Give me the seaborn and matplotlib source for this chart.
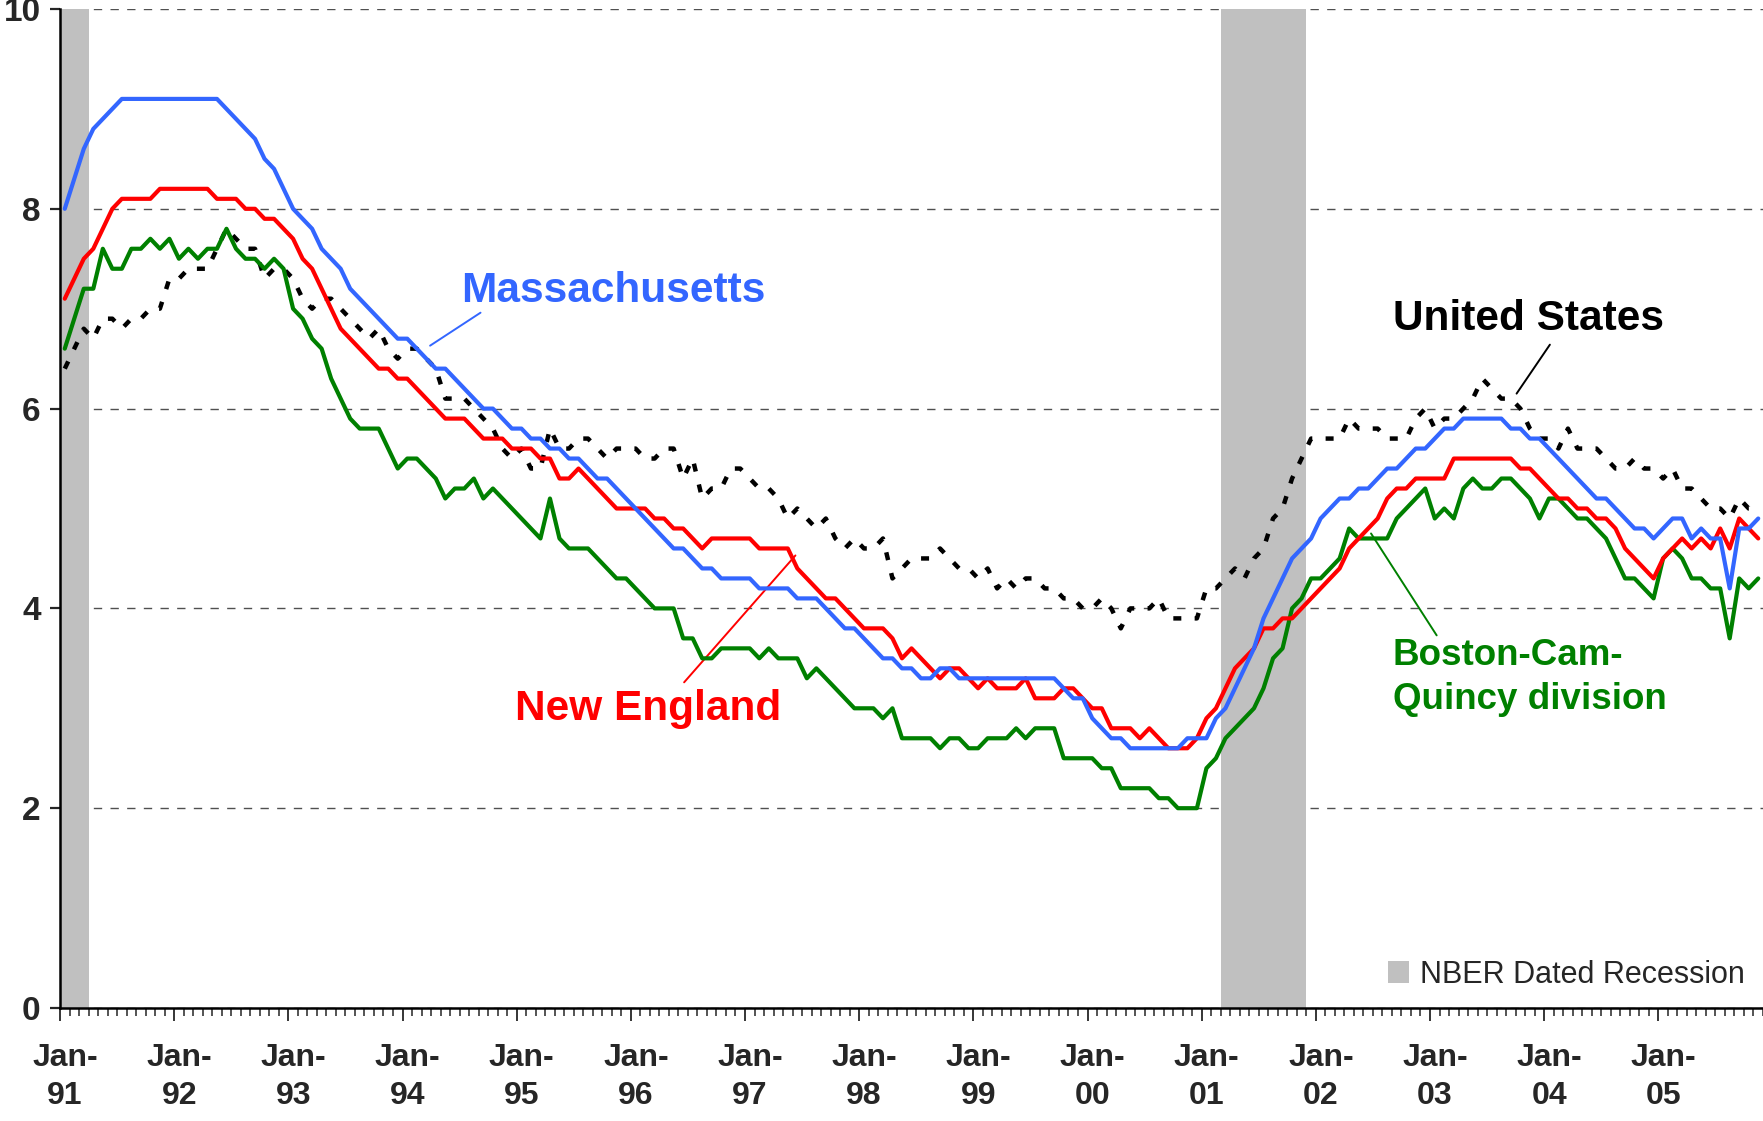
import numpy as np
import pandas as pd
import matplotlib
matplotlib.use("Agg")
import matplotlib.pyplot as plt
import matplotlib.transforms as mtransforms
from matplotlib.patches import Patch
import seaborn as sns

# Monthly unemployment rates, Jan-1991 .. Nov-2005 (percent)
massachusetts = [
    8.0, 8.3, 8.6, 8.8, 8.9, 9.0, 9.1, 9.1, 9.1, 9.1, 9.1, 9.1,   # 1991
    9.1, 9.1, 9.1, 9.1, 9.1, 9.0, 8.9, 8.8, 8.7, 8.5, 8.4, 8.2,   # 1992
    8.0, 7.9, 7.8, 7.6, 7.5, 7.4, 7.2, 7.1, 7.0, 6.9, 6.8, 6.7,   # 1993
    6.7, 6.6, 6.5, 6.4, 6.4, 6.3, 6.2, 6.1, 6.0, 6.0, 5.9, 5.8,   # 1994
    5.8, 5.7, 5.7, 5.6, 5.6, 5.5, 5.5, 5.4, 5.3, 5.3, 5.2, 5.1,   # 1995
    5.0, 4.9, 4.8, 4.7, 4.6, 4.6, 4.5, 4.4, 4.4, 4.3, 4.3, 4.3,   # 1996
    4.3, 4.2, 4.2, 4.2, 4.2, 4.1, 4.1, 4.1, 4.0, 3.9, 3.8, 3.8,   # 1997
    3.7, 3.6, 3.5, 3.5, 3.4, 3.4, 3.3, 3.3, 3.4, 3.4, 3.3, 3.3,   # 1998
    3.3, 3.3, 3.3, 3.3, 3.3, 3.3, 3.3, 3.3, 3.3, 3.2, 3.1, 3.1,   # 1999
    2.9, 2.8, 2.7, 2.7, 2.6, 2.6, 2.6, 2.6, 2.6, 2.6, 2.7, 2.7,   # 2000
    2.7, 2.9, 3.0, 3.2, 3.4, 3.6, 3.9, 4.1, 4.3, 4.5, 4.6, 4.7,   # 2001
    4.9, 5.0, 5.1, 5.1, 5.2, 5.2, 5.3, 5.4, 5.4, 5.5, 5.6, 5.6,   # 2002
    5.7, 5.8, 5.8, 5.9, 5.9, 5.9, 5.9, 5.9, 5.8, 5.8, 5.7, 5.7,   # 2003
    5.6, 5.5, 5.4, 5.3, 5.2, 5.1, 5.1, 5.0, 4.9, 4.8, 4.8, 4.7,   # 2004
    4.8, 4.9, 4.9, 4.7, 4.8, 4.7, 4.7, 4.2, 4.8, 4.8, 4.9,        # 2005
]
new_england = [
    7.1, 7.3, 7.5, 7.6, 7.8, 8.0, 8.1, 8.1, 8.1, 8.1, 8.2, 8.2,
    8.2, 8.2, 8.2, 8.2, 8.1, 8.1, 8.1, 8.0, 8.0, 7.9, 7.9, 7.8,
    7.7, 7.5, 7.4, 7.2, 7.0, 6.8, 6.7, 6.6, 6.5, 6.4, 6.4, 6.3,
    6.3, 6.2, 6.1, 6.0, 5.9, 5.9, 5.9, 5.8, 5.7, 5.7, 5.7, 5.6,
    5.6, 5.6, 5.5, 5.5, 5.3, 5.3, 5.4, 5.3, 5.2, 5.1, 5.0, 5.0,
    5.0, 5.0, 4.9, 4.9, 4.8, 4.8, 4.7, 4.6, 4.7, 4.7, 4.7, 4.7,
    4.7, 4.6, 4.6, 4.6, 4.6, 4.4, 4.3, 4.2, 4.1, 4.1, 4.0, 3.9,
    3.8, 3.8, 3.8, 3.7, 3.5, 3.6, 3.5, 3.4, 3.3, 3.4, 3.4, 3.3,
    3.2, 3.3, 3.2, 3.2, 3.2, 3.3, 3.1, 3.1, 3.1, 3.2, 3.2, 3.1,
    3.0, 3.0, 2.8, 2.8, 2.8, 2.7, 2.8, 2.7, 2.6, 2.6, 2.6, 2.7,
    2.9, 3.0, 3.2, 3.4, 3.5, 3.6, 3.8, 3.8, 3.9, 3.9, 4.0, 4.1,
    4.2, 4.3, 4.4, 4.6, 4.7, 4.8, 4.9, 5.1, 5.2, 5.2, 5.3, 5.3,
    5.3, 5.3, 5.5, 5.5, 5.5, 5.5, 5.5, 5.5, 5.5, 5.4, 5.4, 5.3,
    5.2, 5.1, 5.1, 5.0, 5.0, 4.9, 4.9, 4.8, 4.6, 4.5, 4.4, 4.3,
    4.5, 4.6, 4.7, 4.6, 4.7, 4.6, 4.8, 4.6, 4.9, 4.8, 4.7,
]
boston = [
    6.6, 6.9, 7.2, 7.2, 7.6, 7.4, 7.4, 7.6, 7.6, 7.7, 7.6, 7.7,
    7.5, 7.6, 7.5, 7.6, 7.6, 7.8, 7.6, 7.5, 7.5, 7.4, 7.5, 7.4,
    7.0, 6.9, 6.7, 6.6, 6.3, 6.1, 5.9, 5.8, 5.8, 5.8, 5.6, 5.4,
    5.5, 5.5, 5.4, 5.3, 5.1, 5.2, 5.2, 5.3, 5.1, 5.2, 5.1, 5.0,
    4.9, 4.8, 4.7, 5.1, 4.7, 4.6, 4.6, 4.6, 4.5, 4.4, 4.3, 4.3,
    4.2, 4.1, 4.0, 4.0, 4.0, 3.7, 3.7, 3.5, 3.5, 3.6, 3.6, 3.6,
    3.6, 3.5, 3.6, 3.5, 3.5, 3.5, 3.3, 3.4, 3.3, 3.2, 3.1, 3.0,
    3.0, 3.0, 2.9, 3.0, 2.7, 2.7, 2.7, 2.7, 2.6, 2.7, 2.7, 2.6,
    2.6, 2.7, 2.7, 2.7, 2.8, 2.7, 2.8, 2.8, 2.8, 2.5, 2.5, 2.5,
    2.5, 2.4, 2.4, 2.2, 2.2, 2.2, 2.2, 2.1, 2.1, 2.0, 2.0, 2.0,
    2.4, 2.5, 2.7, 2.8, 2.9, 3.0, 3.2, 3.5, 3.6, 4.0, 4.1, 4.3,
    4.3, 4.4, 4.5, 4.8, 4.7, 4.7, 4.7, 4.7, 4.9, 5.0, 5.1, 5.2,
    4.9, 5.0, 4.9, 5.2, 5.3, 5.2, 5.2, 5.3, 5.3, 5.2, 5.1, 4.9,
    5.1, 5.1, 5.0, 4.9, 4.9, 4.8, 4.7, 4.5, 4.3, 4.3, 4.2, 4.1,
    4.5, 4.6, 4.5, 4.3, 4.3, 4.2, 4.2, 3.7, 4.3, 4.2, 4.3,
]
united_states = [
    6.4, 6.6, 6.8, 6.7, 6.9, 6.9, 6.8, 6.9, 6.9, 7.0, 7.0, 7.3,
    7.3, 7.4, 7.4, 7.4, 7.6, 7.8, 7.7, 7.6, 7.6, 7.3, 7.4, 7.4,
    7.3, 7.1, 7.0, 7.1, 7.1, 7.0, 6.9, 6.8, 6.7, 6.8, 6.6, 6.5,
    6.6, 6.6, 6.5, 6.4, 6.1, 6.1, 6.1, 6.0, 5.9, 5.8, 5.6, 5.5,
    5.6, 5.4, 5.4, 5.8, 5.6, 5.6, 5.7, 5.7, 5.6, 5.5, 5.6, 5.6,
    5.6, 5.5, 5.5, 5.6, 5.6, 5.3, 5.5, 5.1, 5.2, 5.2, 5.4, 5.4,
    5.3, 5.2, 5.2, 5.1, 4.9, 5.0, 4.9, 4.8, 4.9, 4.7, 4.6, 4.7,
    4.6, 4.6, 4.7, 4.3, 4.4, 4.5, 4.5, 4.5, 4.6, 4.5, 4.4, 4.4,
    4.3, 4.4, 4.2, 4.3, 4.2, 4.3, 4.3, 4.2, 4.2, 4.1, 4.1, 4.0,
    4.0, 4.1, 4.0, 3.8, 4.0, 4.0, 4.0, 4.1, 3.9, 3.9, 3.9, 3.9,
    4.2, 4.2, 4.3, 4.4, 4.3, 4.5, 4.6, 4.9, 5.0, 5.3, 5.5, 5.7,
    5.7, 5.7, 5.7, 5.9, 5.8, 5.8, 5.8, 5.7, 5.7, 5.7, 5.9, 6.0,
    5.8, 5.9, 5.9, 6.0, 6.1, 6.3, 6.2, 6.1, 6.1, 6.0, 5.8, 5.7,
    5.7, 5.6, 5.8, 5.6, 5.6, 5.6, 5.5, 5.4, 5.4, 5.5, 5.4, 5.4,
    5.3, 5.4, 5.2, 5.2, 5.1, 5.0, 5.0, 4.9, 5.1, 5.0, 5.0,
]
year_labels = ['91', '92', '93', '94', '95', '96', '97', '98',
               '99', '00', '01', '02', '03', '04', '05']
# NBER recessions as (first month, last month) indices from Jan-91
recessions = [(0, 2), (122, 130)]

df = pd.DataFrame({
    'month': np.arange(len(massachusetts)),
    'Massachusetts': massachusetts,
    'New England': new_england,
    'Boston': boston,
    'United States': united_states,
})

BLUE = '#3366FF'
RED = '#FF0000'
GREEN = '#008000'
GRAY = '#C0C0C0'

sns.set_style('white')
plt.rcParams['font.family'] = ['Liberation Sans', 'DejaVu Sans']

fig = plt.figure(figsize=(17.63, 11.21), dpi=100)
ax = fig.add_axes([60 / 1763, 113 / 1121, 1 - 60 / 1763, 999 / 1121])

# recession shading
for start, end in recessions:
    ax.axvspan(start - 0.5, end + 0.5, color=GRAY, lw=0, zorder=1)

sns.lineplot(data=df, x='month', y='United States', ax=ax, color='black',
             lw=3.2, linestyle=(0, (1.8, 3.0)), zorder=3)
sns.lineplot(data=df, x='month', y='Boston', ax=ax, color=GREEN, lw=3.0, zorder=4)
sns.lineplot(data=df, x='month', y='New England', ax=ax, color=RED, lw=3.0, zorder=5)
sns.lineplot(data=df, x='month', y='Massachusetts', ax=ax, color=BLUE, lw=3.0, zorder=6)

ax.set_xlim(-0.5, 178.3)
ax.set_ylim(0, 10)
ax.set_xlabel('')
ax.set_ylabel('')

# grid
ax.set_axisbelow(True)
ax.yaxis.grid(True, color='#505050', linestyle=(0, (6, 6)), lw=1.0)
ax.xaxis.grid(False)

for side in ['top', 'right']:
    ax.spines[side].set_visible(False)
for side in ['left', 'bottom']:
    ax.spines[side].set_color('black')
    ax.spines[side].set_linewidth(1.8)

# ticks
ax.set_yticks(np.arange(0, 11, 2))
ax.set_yticklabels([str(v) for v in range(0, 11, 2)], fontsize=24, fontweight='bold')
ax.tick_params(axis='y', direction='out', length=7, width=1.6, pad=7, left=True)

ax.set_xticks(np.arange(0, 12 * len(year_labels), 12) - 0.5)
ax.set_xticklabels(['Jan-\n' + y for y in year_labels], fontsize=23,
                   fontweight='bold', linespacing=1.35)
ax.set_xticks(np.arange(-0.5, 179, 1), minor=True)
ax.tick_params(axis='x', which='major', direction='out', length=9, width=1.3,
               pad=16, bottom=True)
ax.tick_params(axis='x', which='minor', direction='out', length=6, width=1.1,
               bottom=True)
shift = mtransforms.ScaledTranslation(0.05, 0, fig.dpi_scale_trans)
for lab in ax.get_xticklabels():
    lab.set_transform(lab.get_transform() + shift)

# series labels with leader lines
ax.text(41.7, 7.07, 'Massachusetts', color=BLUE, fontsize=30.5,
        fontweight='bold', va='baseline', ha='left')
ax.annotate('', xy=(38.4, 6.63), xytext=(43.7, 6.96),
            arrowprops=dict(arrowstyle='-', color=BLUE, lw=1.4,
                            shrinkA=0, shrinkB=0))

ax.text(139.6, 6.79, 'United States', color='black', fontsize=30.5,
        fontweight='bold', va='baseline', ha='left')
ax.annotate('', xy=(152.6, 6.15), xytext=(156.1, 6.64),
            arrowprops=dict(arrowstyle='-', color='black', lw=1.4,
                            shrinkA=0, shrinkB=0))

ax.text(47.3, 2.885, 'New England', color=RED, fontsize=30.5,
        fontweight='bold', va='baseline', ha='left')
ax.annotate('', xy=(76.8, 4.53), xytext=(65.1, 3.26),
            arrowprops=dict(arrowstyle='-', color=RED, lw=1.4,
                            shrinkA=0, shrinkB=0))

ax.text(139.6, 3.43, 'Boston-Cam-', color=GREEN, fontsize=26.5,
        fontweight='bold', va='baseline', ha='left')
ax.text(139.6, 2.99, 'Quincy division', color=GREEN, fontsize=26.5,
        fontweight='bold', va='baseline', ha='left')
ax.annotate('', xy=(137.3, 4.75), xytext=(144.2, 3.73),
            arrowprops=dict(arrowstyle='-', color=GREEN, lw=1.4,
                            shrinkA=0, shrinkB=0))

ax.legend(handles=[Patch(facecolor=GRAY, edgecolor='none',
                         label='NBER Dated Recession')],
          loc='lower right', bbox_to_anchor=(1.0, 0.0), frameon=False,
          fontsize=22, handlelength=0.7, handleheight=0.7,
          handletextpad=0.35, borderaxespad=0.3, borderpad=0.3)

fig.savefig('out.png', dpi=100)
